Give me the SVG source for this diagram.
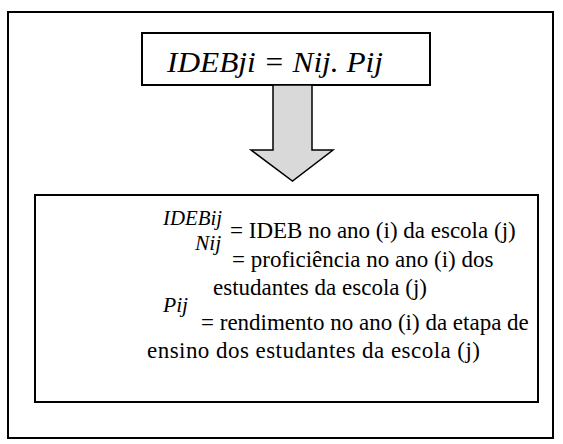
<svg xmlns="http://www.w3.org/2000/svg" width="563" height="444" viewBox="0 0 563 444">
<style>
.box{fill:#fff;stroke:#000;stroke-width:2}
text{font-family:'Liberation Serif','Times New Roman',serif;fill:#000}
.t{font-size:23px}
.i{font-style:italic;font-size:21.5px}
</style>
<rect x="0" y="0" width="563" height="444" fill="#fff"/>
<g id="frame"><rect class="box" x="8" y="12" width="545" height="426"/></g>
<g id="formula">
<rect class="box" x="142" y="33" width="288" height="52" stroke-width="1.5"/>
<text x="167" y="72" font-style="italic" font-size="29" textLength="216" lengthAdjust="spacingAndGlyphs" xml:space="preserve">IDEBji = Nij. Pij</text>
</g>
<g id="connectors">
<polygon points="273,85 312,85 312,150 333,150 292.5,181 251,150 273,150" fill="#d9d9d9" stroke="#000" stroke-width="1.5"/>
</g>
<g id="legend">
<rect class="box" x="35" y="195" width="503" height="207"/>
<text class="i" x="163" y="225" textLength="59" lengthAdjust="spacingAndGlyphs">IDEBij</text>
<text class="t" x="230" y="238">= IDEB no ano (i) da escola (j)</text>
<text class="i" x="195" y="250">Nij</text>
<text class="t" x="232" y="267">= proficiência no ano (i) dos</text>
<text class="t" x="213" y="295">estudantes da escola (j)</text>
<text class="i" x="163" y="312">Pij</text>
<text class="t" x="201" y="330">= rendimento no ano (i) da etapa de</text>
<text class="t" x="147" y="358" textLength="333">ensino dos estudantes da escola (j)</text>
</g>
</svg>
